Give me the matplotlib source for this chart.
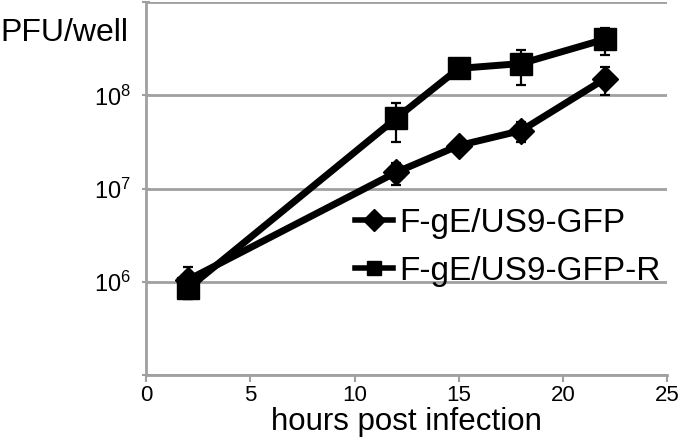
import matplotlib
matplotlib.use("Agg")
import matplotlib.pyplot as plt
from matplotlib.lines import Line2D
from matplotlib.ticker import FixedLocator, NullLocator

plt.rcParams["font.family"] = ["Liberation Sans", "DejaVu Sans"]
plt.rcParams["mathtext.default"] = "regular"

hours = [2, 12, 15, 18, 22]
gfp = [1.05e6, 1.5e7, 2.9e7, 4.2e7, 1.5e8]
gfp_err = [4.0e5, 4.0e6, 2.0e6, 1.0e7, 5.0e7]
gfp_r = [8.5e5, 5.7e7, 1.95e8, 2.2e8, 4.0e8]
gfp_r_err = [2.0e5, 2.5e7, 2.5e7, 9.0e7, 1.3e8]
labels = ["F-gE/US9-GFP", "F-gE/US9-GFP-R"]

grey = "#a0a0a0"
fig = plt.figure(figsize=(6.8, 4.45), dpi=100)
ax = fig.add_axes([0.215, 0.157, 0.766, 0.838])

ax.errorbar(hours, gfp_r, yerr=gfp_r_err, color="black", lw=5, marker="s", ms=15.5,
            ecolor="black", elinewidth=1.6, capsize=3.5, capthick=1.6, zorder=3)
ax.errorbar(hours, gfp, yerr=gfp_err, color="black", lw=5, marker="D", ms=13,
            ecolor="black", elinewidth=1.6, capsize=3.5, capthick=1.6, zorder=4)

ax.set_yscale("log")
ax.set_ylim(1e5, 1e9)
ax.set_xlim(0, 25)
ax.yaxis.set_major_locator(FixedLocator([1e5, 1e6, 1e7, 1e8, 1e9]))
ax.yaxis.set_minor_locator(NullLocator())
ax.set_yticklabels(["", r"$10^{6}$", r"$10^{7}$", r"$10^{8}$", ""])
ax.set_xticks([0, 5, 10, 15, 20, 25])

ax.grid(axis="y", color=grey, lw=2)
ax.set_axisbelow(True)
for s in ["top", "right"]:
    ax.spines[s].set_visible(False)
for s in ["left", "bottom"]:
    ax.spines[s].set_color(grey)
    ax.spines[s].set_linewidth(2)
ax.tick_params(axis="x", colors=grey, width=1.5, length=5, labelcolor="black",
               labelsize=16, pad=2)
ax.tick_params(axis="y", colors=grey, width=1.5, length=6, direction="inout",
               labelcolor="black", labelsize=17, pad=8)

ax.set_xlabel("hours post infection", fontsize=22.5, labelpad=1)
fig.text(0.0, 0.926, "PFU/well", fontsize=23, ha="left", va="center")

handles = [Line2D([], [], color="black", lw=4, marker="D", ms=11),
           Line2D([], [], color="black", lw=4, marker="s", ms=9.5)]
ax.legend(handles, labels, loc="upper left", bbox_to_anchor=(0.40, 0.448), frameon=False,
          fontsize=24, handlelength=1.15, handletextpad=0.2, labelspacing=0.5,
          borderpad=0, borderaxespad=0)

fig.savefig("out.png", dpi=100)
